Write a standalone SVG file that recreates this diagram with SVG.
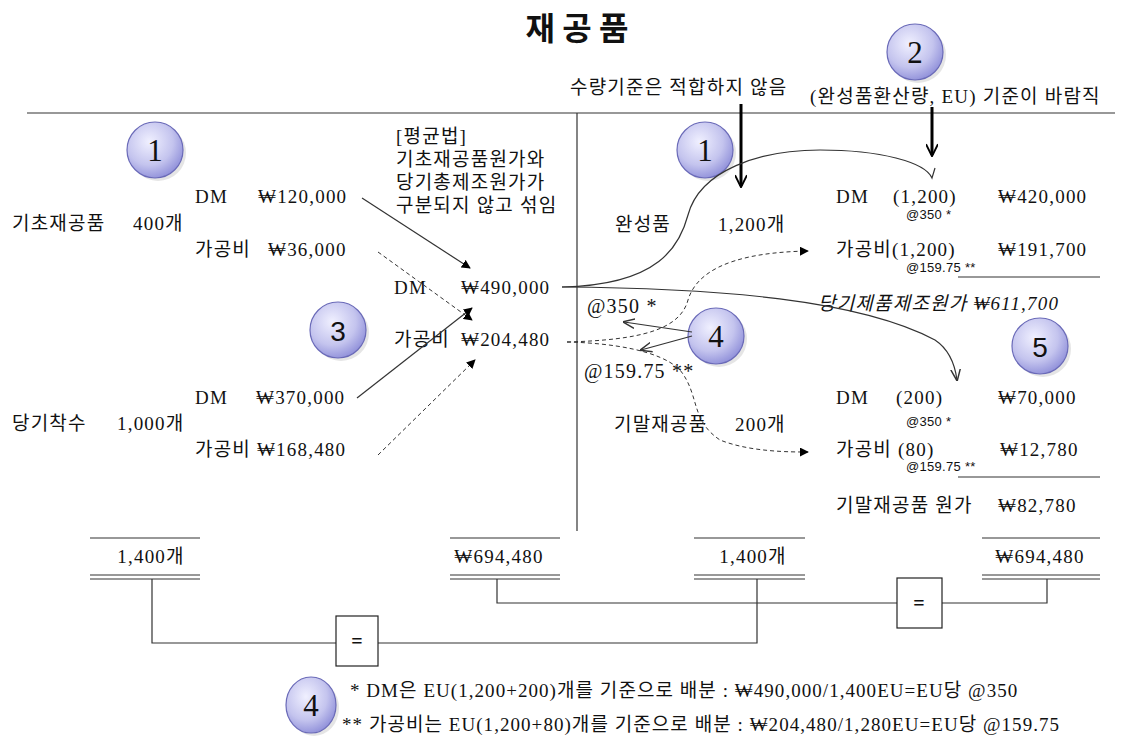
<svg xmlns="http://www.w3.org/2000/svg" width="1123" height="739" viewBox="0 0 1123 739">
<defs>
<radialGradient id="cg" cx="0.4" cy="0.35" r="0.7">
<stop offset="0" stop-color="#f0f0ff"/>
<stop offset="0.6" stop-color="#c4c4ee"/>
<stop offset="1" stop-color="#8c8cd8"/>
</radialGradient>
<marker id="ah" viewBox="0 0 10 10" refX="9" refY="5" markerWidth="9" markerHeight="9" orient="auto" markerUnits="userSpaceOnUse"><path d="M0,0 L10,5 L0,10 z" fill="#000"/></marker>
<marker id="ahb" viewBox="0 0 10 10" refX="9" refY="5" markerWidth="14" markerHeight="12" orient="auto" markerUnits="userSpaceOnUse"><path d="M0,0 L10,5 L0,10" fill="none" stroke="#000" stroke-width="1.6"/></marker>
<marker id="ao" viewBox="0 0 10 10" refX="9" refY="5" markerWidth="12" markerHeight="12" orient="auto" markerUnits="userSpaceOnUse"><path d="M0,1 L10,5 L0,9" fill="none" stroke="#333" stroke-width="1.2"/></marker>
</defs>
<style>
text{font-family:"Liberation Serif","Noto Sans CJK KR",serif;font-size:19px;letter-spacing:1.2px;fill:#111}
.sm{font-size:13px;letter-spacing:0.3px;font-family:"Liberation Sans","Noto Sans CJK KR",sans-serif}
.num{font-size:31px;letter-spacing:0;text-anchor:middle}
.ns{font-family:"Liberation Sans",sans-serif}
.nt{letter-spacing:1.05px}
.c{fill:url(#cg);stroke:#6a6ab8;stroke-width:1.2}
.ln{stroke:#333;stroke-width:1.2;fill:none}
.dl{stroke:#333;stroke-width:1;fill:none;stroke-dasharray:4,3}
.bx{fill:#fff;stroke:#222;stroke-width:1.2}
</style>
<rect width="1123" height="739" fill="#fff"/>
<text x="577" y="40" text-anchor="middle" style="font-family:'Noto Sans CJK KR',sans-serif;font-size:32px;font-weight:bold;letter-spacing:0">재 공 품</text>
<g id="frame">
<line x1="27" y1="113" x2="1115" y2="113" class="ln"/>
<line x1="577" y1="113" x2="577" y2="531" class="ln"/>
</g>
<g id="badges">
<circle cx="158" cy="153" r="28" fill="#ccc" opacity="0.5"/><circle cx="155" cy="150" r="28" class="c"/><text x="155" y="161" class="num">1</text>
<circle cx="708" cy="153" r="28" fill="#ccc" opacity="0.5"/><circle cx="705" cy="150" r="28" class="c"/><text x="705" y="161" class="num">1</text>
<circle cx="918" cy="55" r="28" fill="#ccc" opacity="0.5"/><circle cx="915" cy="52" r="28" class="c"/><text x="915" y="63" class="num">2</text>
<circle cx="341" cy="333" r="28" fill="#ccc" opacity="0.5"/><circle cx="338" cy="330" r="28" class="c"/><text x="338" y="341" class="num ns" style="font-size:28px">3</text>
<circle cx="719" cy="339" r="28" fill="#ccc" opacity="0.5"/><circle cx="716" cy="336" r="28" class="c"/><text x="716" y="347" class="num">4</text>
<circle cx="1043" cy="349" r="28" fill="#ccc" opacity="0.5"/><circle cx="1040" cy="346" r="28" class="c"/><text x="1040" y="357" class="num ns" style="font-size:28px">5</text>
<ellipse cx="314" cy="708" rx="25" ry="28" fill="#ccc" opacity="0.5"/><ellipse cx="311" cy="705" rx="25" ry="28" class="c"/><text x="311" y="716" class="num">4</text>
</g>
<g id="left">
<text x="195" y="203">DM</text><text x="258" y="203">₩120,000</text>
<text x="12" y="230">기초재공품</text><text x="133" y="230">400개</text>
<text x="195" y="256">가공비</text><text x="268" y="256">₩36,000</text>
<text x="195" y="404">DM</text><text x="256" y="404">₩370,000</text>
<text x="12" y="430">당기착수</text><text x="117" y="430">1,000개</text>
<text x="195" y="456">가공비 ₩168,480</text>
</g>
<g id="middle">
<text x="396" y="143">[평균법]</text>
<text x="396" y="166">기초재공품원가와</text>
<text x="396" y="189">당기총제조원가가</text>
<text x="396" y="212">구분되지 않고 섞임</text>
<text x="394" y="294">DM</text><text x="461" y="294">₩490,000</text>
<text x="394" y="346">가공비</text><text x="461" y="346">₩204,480</text>
</g>
<g id="right">
<text x="570" y="94">수량기준은 적합하지 않음</text>
<text x="810" y="103">(완성품환산량, EU) 기준이 바람직</text>
<text x="615" y="231">완성품</text><text x="718" y="231">1,200개</text>
<text x="836" y="203">DM</text><text x="893" y="203">(1,200)</text><text x="998" y="203">₩420,000</text>
<text x="906" y="219" class="sm">@350 *</text>
<text x="836" y="256">가공비(1,200)</text><text x="998" y="256">₩191,700</text>
<text x="906" y="272" class="sm">@159.75 **</text>
<line x1="958" y1="277" x2="1100" y2="277" class="ln"/>
<text x="818" y="310" font-style="italic">당기제품제조원가  ₩611,700</text>
<text x="587" y="313" style="font-size:20px">@350 *</text>
<text x="584" y="378" style="font-size:20px">@159.75 **</text>
<text x="614" y="431">기말재공품</text><text x="735" y="431">200개</text>
<text x="836" y="404">DM</text><text x="896" y="404">(200)</text><text x="998" y="404">₩70,000</text>
<text x="906" y="426" class="sm">@350 *</text>
<text x="836" y="456">가공비 (80)</text><text x="1000" y="456">₩12,780</text>
<text x="906" y="471" class="sm">@159.75 **</text>
<line x1="958" y1="477" x2="1100" y2="477" class="ln"/>
<text x="836" y="512">기말재공품 원가</text><text x="998" y="512">₩82,780</text>
</g>
<g id="totals">
<line x1="90" y1="538" x2="200" y2="538" class="ln"/>
<line x1="450" y1="538" x2="560" y2="538" class="ln"/>
<line x1="694" y1="538" x2="805" y2="538" class="ln"/>
<line x1="982" y1="538" x2="1100" y2="538" class="ln"/>
<text x="151" y="563" text-anchor="middle">1,400개</text>
<text x="499" y="563" text-anchor="middle">₩694,480</text>
<text x="753" y="563" text-anchor="middle">1,400개</text>
<text x="1040" y="563" text-anchor="middle">₩694,480</text>
<g class="ln">
<line x1="90" y1="575" x2="200" y2="575"/><line x1="90" y1="579" x2="200" y2="579"/>
<line x1="450" y1="575" x2="560" y2="575"/><line x1="450" y1="579" x2="560" y2="579"/>
<line x1="694" y1="575" x2="805" y2="575"/><line x1="694" y1="579" x2="805" y2="579"/>
<line x1="982" y1="575" x2="1100" y2="575"/><line x1="982" y1="579" x2="1100" y2="579"/>
</g>
</g>
<g id="connectors">
<path d="M152,579 V643 H757 V579" class="ln"/>
<path d="M497,579 V603 H1047 V579" class="ln"/>
<line x1="362" y1="198" x2="470" y2="268" class="ln" marker-end="url(#ah)"/>
<line x1="378" y1="252" x2="472" y2="320" class="dl" marker-end="url(#ah)"/>
<line x1="357" y1="398" x2="472" y2="308" class="ln" marker-end="url(#ah)"/>
<line x1="378" y1="455" x2="475" y2="360" class="dl" marker-end="url(#ah)"/>
<line x1="741" y1="104" x2="741" y2="186" stroke="#000" stroke-width="3" marker-end="url(#ahb)"/>
<line x1="932" y1="107" x2="932" y2="155" stroke="#000" stroke-width="3" marker-end="url(#ahb)"/>
<path d="M562,287 C660,285 680,245 688,215 C700,170 760,150 820,150 C880,150 925,162 932,178 L935,168" class="ln"/>
<path d="M562,287 C720,288 860,300 935,340 C950,350 955,365 957,380" class="ln" marker-end="url(#ao)"/>
<path d="M567,342 C640,340 680,330 688,300 C700,260 760,252 808,251" class="dl" marker-end="url(#ah)"/>
<path d="M567,342 C610,343 660,350 680,370 C700,395 690,420 720,440 C750,452 790,452 808,452" class="dl" marker-end="url(#ah)"/>
<line x1="692" y1="332" x2="624" y2="322" class="ln" marker-end="url(#ao)"/>
<line x1="692" y1="336" x2="641" y2="350" class="ln" marker-end="url(#ao)"/>
</g>
<g id="eq1"><rect x="336" y="616" width="42" height="50" class="bx"/><text x="357" y="648" text-anchor="middle" style="font-size:20px;font-weight:bold;letter-spacing:0">=</text></g>
<g id="eq2"><rect x="897" y="578" width="45" height="50" class="bx"/><text x="919" y="610" text-anchor="middle" style="font-size:20px;font-weight:bold;letter-spacing:0">=</text></g>
<g id="notes">
<text x="350" y="697" class="nt">* DM은 EU(1,200+200)개를 기준으로 배분 : ₩490,000/1,400EU=EU당 @350</text>
<text x="342" y="731" class="nt">** 가공비는 EU(1,200+80)개를 기준으로 배분 : ₩204,480/1,280EU=EU당 @159.75</text>
</g>
</svg>
